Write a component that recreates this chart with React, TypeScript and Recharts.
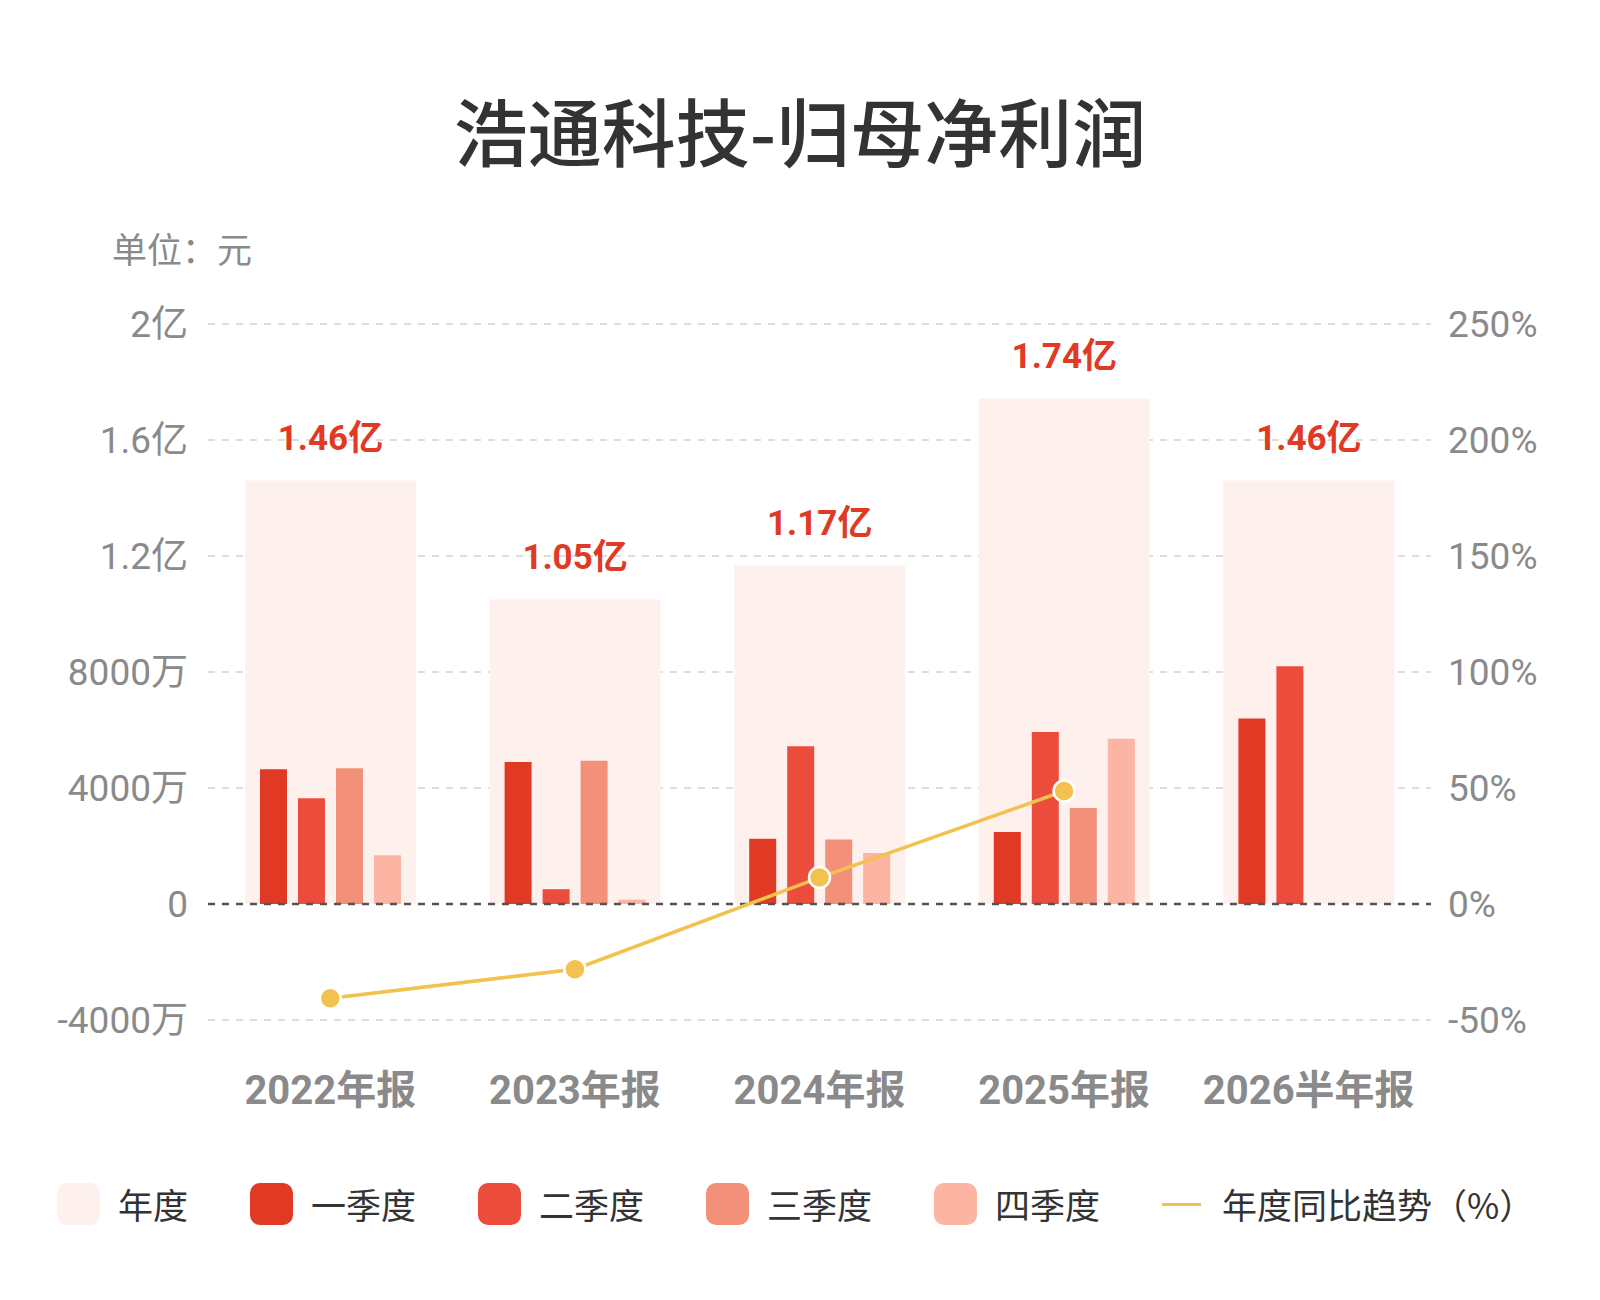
import { ComposedChart, Bar, Line, XAxis, YAxis, CartesianGrid, ReferenceLine, LabelList } from 'recharts'

const periods = ['2022年报', '2023年报', '2024年报', '2025年报', '2026半年报']
const annual = [146000000, 105000000, 116700000, 174240000, 146000000]
const q1 = [46470000, 49000000, 22500000, 24830000, 64000000]
const q2 = [36440000, 5100000, 54400000, 59310000, 82000000]
const q3 = [46820000, 49400000, 22200000, 33100000, null]
const q4 = [16820000, 1500000, 17600000, 57000000, null]
const yoy = [-40.6, -28.1, 11.4, 48.7, null]

const leftTicks = [-40000000, 0, 40000000, 80000000, 120000000, 160000000, 200000000]
const rightTicks = [-50, 0, 50, 100, 150, 200, 250]

const COLORS = {
  annual: '#fef0ec',
  q1: '#e03a25',
  q2: '#ec4c3c',
  q3: '#f3907a',
  q4: '#fcb4a3',
  line: '#f2c14e',
}

const NUM_FONT = "Roboto, 'Noto Sans CJK SC', sans-serif"
const CJK_FONT = "'Noto Sans CJK SC', sans-serif"

const data = periods.map((name, i) => ({
  name,
  annual: annual[i],
  q1: q1[i],
  q2: q2[i],
  q3: q3[i],
  q4: q4[i],
  yoy: yoy[i],
}))

function formatYuan(v: number): string {
  if (v === 0) return '0'
  const abs = Math.abs(v)
  if (abs >= 100000000) return `${v / 100000000}亿`
  return `${v / 10000}万`
}

function AnnualLabel(props: any) {
  const { x, y, width, value } = props
  return (
    <text
      x={x + width / 2}
      y={y - 42}
      textAnchor="middle"
      dominantBaseline="central"
      fill="#e03a25"
      fontSize={35}
      fontWeight={700}
      fontFamily={NUM_FONT}
    >
      {(value / 100000000).toFixed(2)}亿
    </text>
  )
}

function PeriodTick({ x, y, payload }: any) {
  return (
    <text
      x={x}
      y={y + 62}
      textAnchor="middle"
      dominantBaseline="central"
      fill="#8a8a8a"
      fontSize={40}
      fontWeight={700}
      fontFamily={NUM_FONT}
    >
      {payload.value}
    </text>
  )
}

const legendItems = [
  { label: '年度', color: COLORS.annual },
  { label: '一季度', color: COLORS.q1 },
  { label: '二季度', color: COLORS.q2 },
  { label: '三季度', color: COLORS.q3 },
  { label: '四季度', color: COLORS.q4 },
]

export default function App() {
  return (
    <div style={{ position: 'absolute', left: 0, top: 0, width: 1600, height: 1300, background: '#fff', fontFamily: CJK_FONT }}>
      <div style={{ position: 'absolute', left: 0, width: 1600, top: 84, textAlign: 'center', fontSize: 74, fontWeight: 500, color: '#333', lineHeight: '90px' }}>
        浩通科技-归母净利润
      </div>
      <div style={{ position: 'absolute', left: 112, top: 226, fontSize: 35, color: '#8a8a8a', lineHeight: '44px' }}>
        单位：元
      </div>

      <ComposedChart
        width={1600}
        height={1300}
        data={data}
        margin={{ top: 324, right: 0, bottom: 220, left: 0 }}
        barGap={11}
      >
        <CartesianGrid xAxisId="a" yAxisId="left" vertical={false} stroke="#dddddd" strokeWidth={2} strokeDasharray="7 7" />
        <XAxis xAxisId="a" dataKey="name" axisLine={false} tickLine={false} tick={<PeriodTick />} height={60} interval={0} />
        <XAxis xAxisId="b" dataKey="name" hide />
        <YAxis
          yAxisId="left"
          width={208}
          domain={[-40000000, 200000000]}
          ticks={leftTicks}
          tickFormatter={formatYuan}
          axisLine={false}
          tickLine={false}
          tickMargin={14}
          tick={{ fill: '#8a8a8a', fontSize: 37, fontFamily: NUM_FONT }}
        />
        <YAxis
          yAxisId="right"
          orientation="right"
          width={169}
          domain={[-50, 250]}
          ticks={rightTicks}
          tickFormatter={(v: number) => `${v}%`}
          axisLine={false}
          tickLine={false}
          tickMargin={11}
          tick={{ fill: '#8a8a8a', fontSize: 37, fontFamily: NUM_FONT, textAnchor: 'start' }}
        />
        <Bar xAxisId="a" yAxisId="left" dataKey="annual" name="年度" fill={COLORS.annual} barSize={171} isAnimationActive={false}>
          <LabelList dataKey="annual" content={<AnnualLabel />} />
        </Bar>
        <Bar xAxisId="b" yAxisId="left" dataKey="q1" name="一季度" fill={COLORS.q1} barSize={27} isAnimationActive={false} />
        <Bar xAxisId="b" yAxisId="left" dataKey="q2" name="二季度" fill={COLORS.q2} barSize={27} isAnimationActive={false} />
        <Bar xAxisId="b" yAxisId="left" dataKey="q3" name="三季度" fill={COLORS.q3} barSize={27} isAnimationActive={false} />
        <Bar xAxisId="b" yAxisId="left" dataKey="q4" name="四季度" fill={COLORS.q4} barSize={27} isAnimationActive={false} />
        <ReferenceLine xAxisId="a" yAxisId="left" y={0} stroke="#555" strokeWidth={2.5} strokeDasharray="7 7" />
        <Line
          xAxisId="a"
          yAxisId="right"
          dataKey="yoy"
          name="年度同比趋势（%）"
          type="linear"
          stroke={COLORS.line}
          strokeWidth={3.5}
          dot={{ r: 10.5, fill: COLORS.line, stroke: '#fff', strokeWidth: 2.5 }}
          activeDot={false}
          isAnimationActive={false}
        />
      </ComposedChart>

      <div style={{ position: 'absolute', left: 57, top: 1183, height: 42, display: 'flex', alignItems: 'center', gap: 62 }}>
        {legendItems.map((item) => (
          <div key={item.label} style={{ display: 'flex', alignItems: 'center' }}>
            <div style={{ width: 43, height: 42, borderRadius: 10, background: item.color }} />
            <span style={{ marginLeft: 18, fontSize: 35, color: '#333', lineHeight: '42px' }}>{item.label}</span>
          </div>
        ))}
        <div style={{ display: 'flex', alignItems: 'center' }}>
          <div style={{ width: 39, height: 3, background: COLORS.line }} />
          <span style={{ marginLeft: 21, fontSize: 35, color: '#333', lineHeight: '42px' }}>年度同比趋势（%）</span>
        </div>
      </div>
    </div>
  )
}
